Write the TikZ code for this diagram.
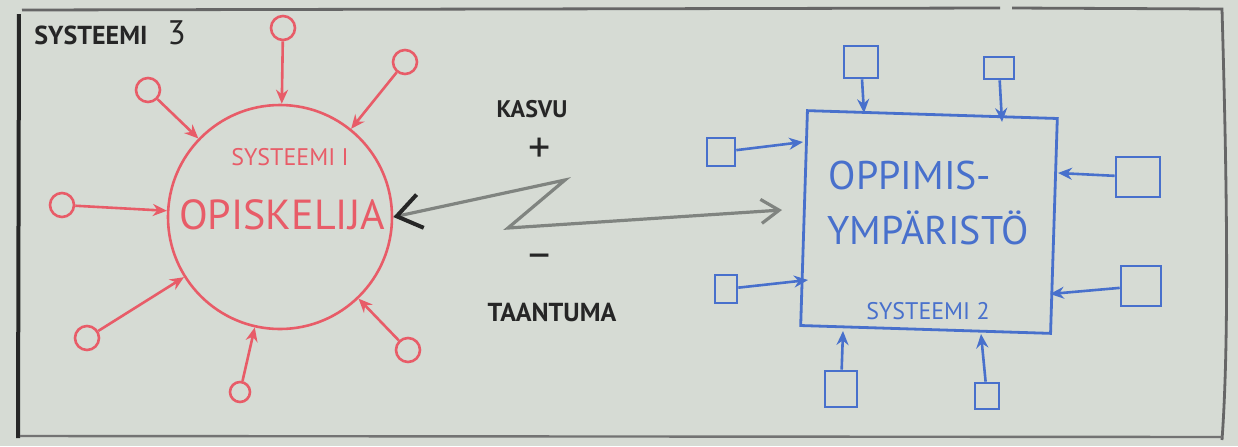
\documentclass[tikz,border=0pt]{standalone}
\usepackage{fontspec}
\setmainfont{PT Sans}
\usetikzlibrary{arrows.meta}
\definecolor{paper}{RGB}{214,219,212}
\definecolor{rpen}{RGB}{232,92,104}
\definecolor{bpen}{RGB}{72,112,204}
\definecolor{gpen}{RGB}{128,132,128}
\tikzset{
  rsat/.style={circle,draw=rpen,line width=1.3pt,minimum size=12pt,inner sep=0pt},
  rarrow/.style={draw=rpen,line width=1.3pt,-{Stealth[length=7pt,width=6pt]}},
  bsat/.style={rectangle,draw=bpen,line width=1.3pt,inner sep=0pt},
  barrow/.style={draw=bpen,line width=1.3pt,-{Stealth[length=7pt,width=6pt]}},
  rtext/.style={text=rpen,inner sep=0pt},
  btext/.style={text=bpen,inner sep=0pt},
  ktext/.style={text=black!85,inner sep=0pt,font=\bfseries},
}
\begin{document}
\begin{tikzpicture}[x=0.5pt,y=-0.5pt]
\fill[paper] (0,0) rectangle (1238,446);
\useasboundingbox (0,0) rectangle (1238,446);
% frame
\draw[black!85,line width=2pt] (19,14) -- (18,438);
\draw[black!60,line width=1.4pt] (22,10) -- (1000,8);
\draw[black!60,line width=1.4pt] (1012,8) -- (1222,9) .. controls (1226,150) and (1230,330) .. (1222,440);
\draw[black!55,line width=1.2pt] (20,436) -- (1222,437);
\node[ktext,anchor=west,font=\bfseries\fontsize{13}{13}\selectfont] (s3) at (34,33) {SYSTEEMI\hspace{10pt}\fontsize{17}{17}\selectfont\mdseries 3};
% student system
\node[circle,draw=rpen,line width=1.3pt,minimum size=112pt,inner sep=0pt] (stud) at (280,217) {};
\node[rtext,font=\fontsize{12}{12}\selectfont] (s1) at (290,157) {SYSTEEMI I};
\node[rtext,font=\fontsize{21}{21}\selectfont] (op) at (282,215) {OPISKELIJA};
\node[rsat] (r1) at (283,28) {};
\node[rsat] (r2) at (405,62) {};
\node[rsat] (r3) at (148,90) {};
\node[rsat] (r4) at (62,205) {};
\node[rsat] (r5) at (87,338) {};
\node[rsat,minimum size=10pt] (r6) at (240,392) {};
\node[rsat] (r7) at (408,350) {};
\foreach \s in {r1,r2,r3,r4,r5,r6,r7} \draw[rarrow] (\s) -- (stud);
% environment system
\node[rectangle,draw=bpen,line width=1.4pt,minimum width=125pt,minimum height=107.5pt,inner sep=0pt,rotate=-1.8] (env) at (929,222) {};
\node[btext,font=\fontsize{20}{20}\selectfont] (op1) at (910,175) {OPPIMIS-};
\node[btext,font=\fontsize{20}{20}\selectfont] (op2) at (928,228) {YMPÄRISTÖ};
\node[btext,font=\fontsize{12}{12}\selectfont] (s2) at (928,311) {SYSTEEMI 2};
\node[bsat,minimum width=17pt,minimum height=16pt] (t1) at (861,62) {};
\node[bsat,minimum width=15pt,minimum height=11pt] (t2) at (999,68) {};
\node[bsat,minimum width=14pt,minimum height=14pt] (l1) at (721,152) {};
\node[bsat,minimum width=11pt,minimum height=14pt] (l2) at (726,289) {};
\node[bsat,minimum width=22pt,minimum height=20pt] (q1) at (1138,177) {};
\node[bsat,minimum width=20pt,minimum height=20pt] (q2) at (1141,286) {};
\node[bsat,minimum width=16pt,minimum height=18pt] (d1) at (841,389) {};
\node[bsat,minimum width=12pt,minimum height=13pt] (d2) at (987,396) {};
\coordinate (et1) at (864,113);
\coordinate (et2) at (1002,122);
\coordinate (el1) at (803,142);
\coordinate (el2) at (808,280);
\coordinate (eq1) at (1058,173);
\coordinate (eq2) at (1050,294);
\coordinate (ed1) at (843,331);
\coordinate (ed2) at (981,334);
\draw[barrow] (t1) -- (et1);
\draw[barrow] (t2) -- (et2);
\draw[barrow] (l1) -- (el1);
\draw[barrow] (l2) -- (el2);
\draw[barrow] (q1) -- (eq1);
\draw[barrow] (q2) -- (eq2);
\draw[barrow] (d1) -- (ed1);
\draw[barrow] (d2) -- (ed2);
% growth / decline relation
\node[ktext,font=\bfseries\fontsize{12}{12}\selectfont] (kasvu) at (532,109) {KASVU};
\node[ktext,font=\fontsize{22}{22}\selectfont\mdseries] (plus) at (540,150) {+};
\node[ktext,font=\fontsize{22}{22}\selectfont\mdseries] (minus) at (540,262) {−};
\node[ktext,font=\bfseries\fontsize{13}{13}\selectfont] (taant) at (552,312) {TAANTUMA};
\coordinate (zA) at (565,180);
\coordinate (zB) at (508,228);
\coordinate (zE) at (782,210);
\draw[gpen,line width=1.6pt,{Straight Barb[length=12pt,width=17pt,color=black!85,line width=2pt]}-{Straight Barb[length=9pt,width=12pt]}] (stud.east) -- (zA) -- (zB) -- (zE);
\end{tikzpicture}
\end{document}
